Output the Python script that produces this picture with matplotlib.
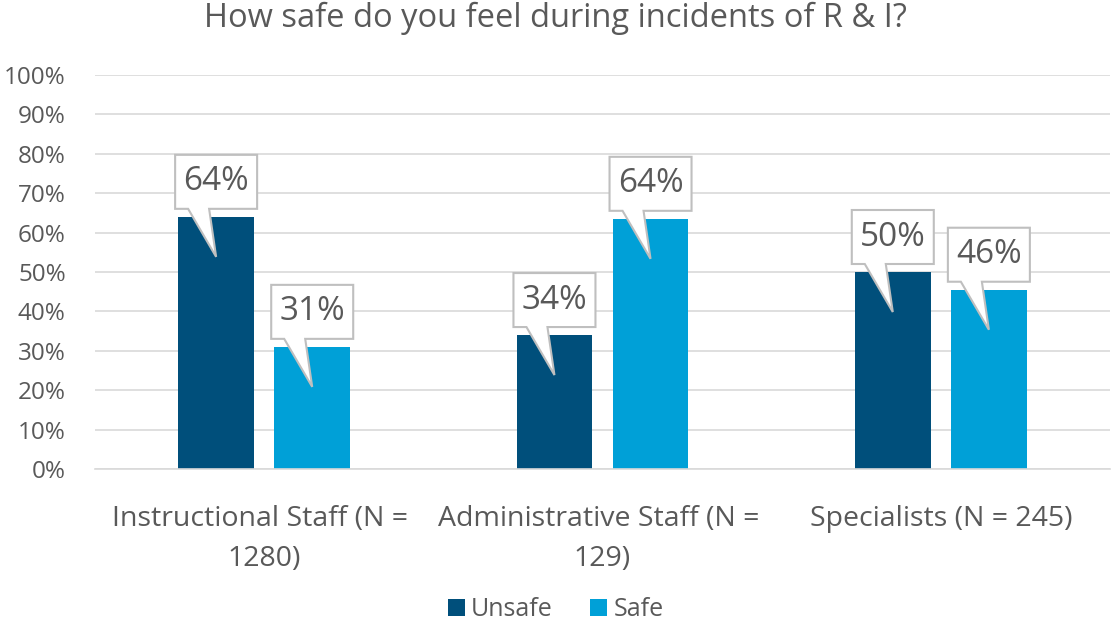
import numpy as np
import matplotlib.pyplot as plt
from matplotlib.patches import Polygon
from matplotlib.transforms import IdentityTransform

categories = ["Instructional Staff (N = \n1280)", "Administrative Staff (N = \n129)", "Specialists (N = 245)"]
series = ["Unsafe", "Safe"]
unsafe = [0.64, 0.34, 0.50]
safe = [0.31, 0.635, 0.455]
labels_unsafe = ["64%", "34%", "50%"]
labels_safe = ["31%", "64%", "46%"]

COL_UNSAFE = "#004F7B"
COL_SAFE = "#00A0D7"
TXT = "#595959"

plt.rcParams['font.family'] = ['Open Sans', 'DejaVu Sans']

fig = plt.figure(figsize=(11.11, 6.26), dpi=100)
ax = fig.add_axes([95 / 1111, 157 / 626, 1015 / 1111, 394 / 626])

x = np.arange(len(categories))
w = 0.224
off = 0.142
b1 = ax.bar(x - off, unsafe, w, color=COL_UNSAFE, label="Unsafe", zorder=2)
b2 = ax.bar(x + off, safe, w, color=COL_SAFE, label="Safe", zorder=2)

ax.set_xlim(-0.5, 2.5)
ax.set_ylim(0, 1)
ax.set_yticks(np.arange(0, 1.01, 0.1))
ax.set_yticklabels([f"{int(round(v * 100))}%" for v in np.arange(0, 1.01, 0.1)])
ax.set_xticks(x)
ax.set_xticklabels(categories, linespacing=1.55)
ax.tick_params(axis='y', length=0, pad=21, labelsize=17.5, labelcolor=TXT)
ax.tick_params(axis='x', length=0, pad=26, labelsize=20.5, labelcolor=TXT)
ax.grid(axis='y', color="#D9D9D9", linewidth=1.2, zorder=0)
for s in ["left", "right", "top"]:
    ax.spines[s].set_visible(False)
ax.spines["bottom"].set_color("#D9D9D9")
ax.spines["bottom"].set_linewidth(1.2)

fig.suptitle("How safe do you feel during incidents of R & I?", fontsize=23.5, color=TXT, y=0.997)


def callout(xc, yv, text):
    bx, ty = ax.transData.transform((xc, yv))
    verts = [
        (bx - 41, ty + 8), (bx - 28, ty + 8), (bx, ty - 40), (bx - 7, ty + 8),
        (bx + 41, ty + 8), (bx + 41, ty + 62), (bx - 41, ty + 62),
    ]
    p = Polygon(verts, closed=True, facecolor="white", edgecolor="#BFBFBF",
                linewidth=1.5, transform=IdentityTransform(), clip_on=False, zorder=5)
    ax.add_patch(p)
    ax.text(bx, ty + 35, text, transform=IdentityTransform(), ha='center', va='center',
            fontsize=24, color=TXT, zorder=6)


for i in range(len(categories)):
    callout(x[i] - off, unsafe[i], labels_unsafe[i])
    callout(x[i] + off, safe[i], labels_safe[i])

leg = fig.legend(handles=[b1, b2], labels=series, loc='center', bbox_to_anchor=(0.5, 1 - 610 / 626),
                 ncol=2, frameon=False, fontsize=18, handlelength=0.68, handleheight=0.68,
                 handletextpad=0.25, columnspacing=1.5, labelcolor=TXT)

fig.savefig("out.png", dpi=100)
